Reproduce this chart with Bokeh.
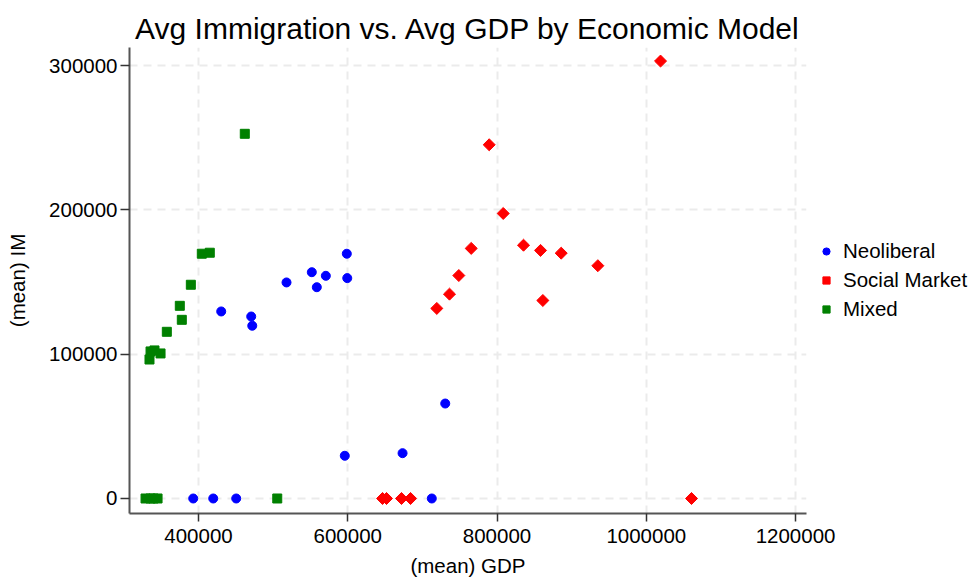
import math
from bokeh.plotting import figure
from bokeh.models import ColumnDataSource, FixedTicker, BasicTickFormatter, Legend, LegendItem, Range1d
from bokeh.embed import file_html
from bokeh.resources import INLINE

# ---- data ----
neo_gdp = [430400, 470600, 472000, 517900, 551800, 558500, 570600, 598700, 599300,
           730600, 673400, 596000, 392900, 419700, 450500, 712600]
neo_im = [129600, 126100, 119700, 149700, 156800, 146400, 154300, 169600, 152700,
          65800, 31400, 29600, 0, 0, 0, 0]

soc_gdp = [1019100, 789500, 808300, 765400, 835500, 858300, 886000, 935100, 861400,
           748800, 736300, 719300, 646600, 651900, 672000, 684100, 1060600]
soc_im = [303100, 245100, 197500, 173300, 175500, 171900, 170000, 161300, 137200,
          154500, 141600, 131700, 0, 0, 0, 0, 0]

mix_gdp = [462000, 404400, 415100, 389700, 374900, 377600, 357500,
           334300, 335700, 341000, 349100,
           329000, 335700, 339700, 345100, 505500]
mix_im = [252700, 169600, 170300, 148100, 133500, 123800, 115500,
          96300, 101900, 102600, 100500,
          0, 0, 0, 0, 0]

x_ticks = [400000, 600000, 800000, 1000000, 1200000]
y_ticks = [0, 100000, 200000, 300000]

FONT = "Liberation Sans"
FW, FH = 677, 466

p = figure(frame_width=FW, frame_height=FH, output_backend="svg", toolbar_location=None,
           x_range=Range1d(307500, 1214700), y_range=Range1d(-10400, 312500),
           min_border_left=129, min_border_right=0, min_border_top=47, min_border_bottom=60)

p.title.text = "Avg Immigration vs. Avg GDP by Economic Model"
p.title.text_font = FONT
p.title.text_font_size = "30px"
p.title.text_font_style = "normal"
p.title.text_color = "black"
p.title.align = "center"
p.title.standoff = 5
p.title.offset = 0

p.outline_line_color = None
p.background_fill_color = "white"
p.border_fill_color = "white"

for g in (p.xgrid, p.ygrid):
    g.grid_line_color = "#ebebeb"
    g.grid_line_width = 2
    g.grid_line_dash = "8 6"
p.xgrid.ticker = FixedTicker(ticks=x_ticks)
p.ygrid.ticker = FixedTicker(ticks=y_ticks)

for ax in (p.xaxis[0], p.yaxis[0]):
    ax.axis_line_color = "#555555"
    ax.axis_line_width = 2
    ax.major_tick_line_color = "#333333"
    ax.major_tick_line_width = 1.5
    ax.major_tick_in = 0
    ax.minor_tick_line_color = None
    ax.major_label_text_font = FONT
    ax.major_label_text_font_size = "20.5px"
    ax.major_label_text_color = "black"
    ax.axis_label_text_font = FONT
    ax.axis_label_text_font_size = "20.5px"
    ax.axis_label_text_font_style = "normal"
    ax.axis_label_text_color = "black"
    ax.formatter = BasicTickFormatter(use_scientific=False)

p.xaxis.ticker = FixedTicker(ticks=x_ticks)
p.yaxis.ticker = FixedTicker(ticks=y_ticks)
p.xaxis.axis_label = "(mean) GDP"
p.yaxis.axis_label = "(mean) IM"
p.xaxis.major_tick_out = 8
p.yaxis.major_tick_out = 9
p.xaxis.major_label_standoff = 7
p.yaxis.major_label_standoff = 3
p.xaxis.axis_label_standoff = 8
p.yaxis.axis_label_standoff = 17

src_n = ColumnDataSource(dict(x=neo_gdp, y=neo_im))
src_s = ColumnDataSource(dict(x=soc_gdp, y=soc_im))
src_m = ColumnDataSource(dict(x=mix_gdp, y=mix_im))

r_n = p.scatter("x", "y", source=src_n, marker="circle", size=9, fill_color="#0000ff", line_color="#0000ff")
r_s = p.scatter("x", "y", source=src_s, marker="square", size=8.5, angle=math.pi / 4,
                fill_color="#ff0000", line_color="#ff0000")
r_m = p.scatter("x", "y", source=src_m, marker="square", size=9, fill_color="#008000", line_color="#008000")

legend = Legend(items=[LegendItem(label="Neoliberal", renderers=[r_n]),
                       LegendItem(label="Social Market", renderers=[r_s]),
                       LegendItem(label="Mixed", renderers=[r_m])],
                location="left", margin=11, padding=0, spacing=5,
                glyph_width=18, glyph_height=24, label_standoff=8,
                label_text_font=FONT, label_text_font_size="20.5px", label_text_color="black",
                border_line_color=None, background_fill_alpha=0)
p.add_layout(legend, "right")

open("out.html", "w").write(file_html(p, INLINE))
